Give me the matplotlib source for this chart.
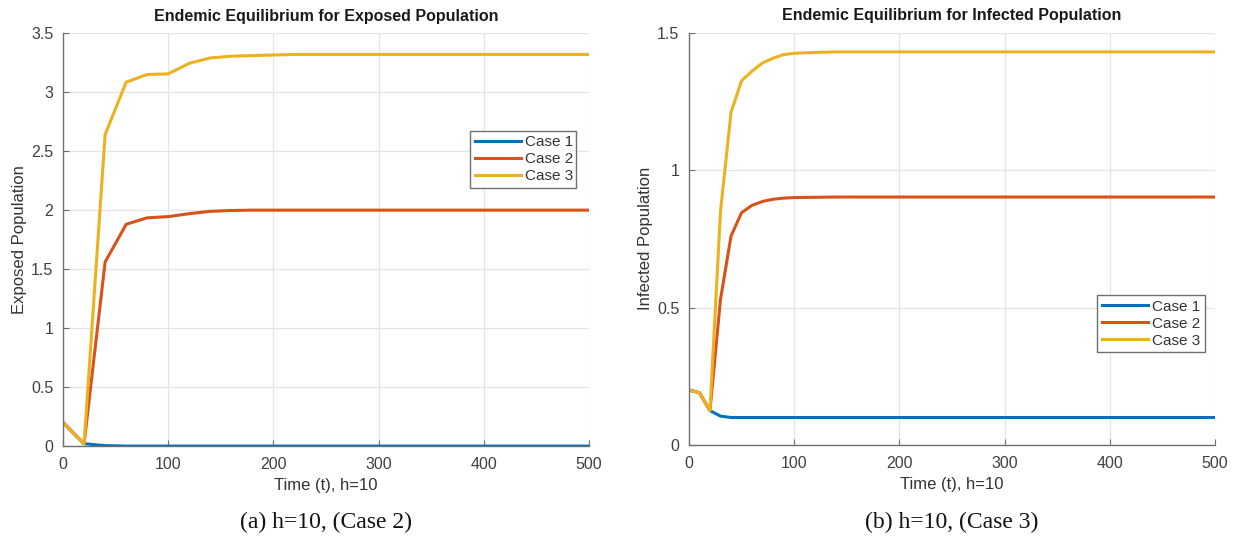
import matplotlib.pyplot as plt
from matplotlib.ticker import FuncFormatter

plt.rcParams['font.family'] = ['Liberation Sans', 'DejaVu Sans']

# (a) exposed population, h=10
t_a = [0, 20, 40, 60, 80, 100, 120, 140, 160, 180, 200, 220, 500]
exp_case1 = [0.2, 0.02, 0.004, 0.0, 0.0, 0.0, 0.0, 0.0, 0.0, 0.0, 0.0, 0.0, 0.0]
exp_case2 = [0.2, 0.02, 1.56, 1.88, 1.935, 1.945, 1.97, 1.99, 1.997, 2.0, 2.0, 2.0, 2.0]
exp_case3 = [0.2, 0.02, 2.64, 3.085, 3.15, 3.155, 3.245, 3.29, 3.305, 3.31, 3.315, 3.32, 3.32]

# (b) infected population, h=10
t_b = [0, 10, 20, 30, 40, 50, 60, 70, 80, 90, 100, 120, 140, 500]
inf_case1 = [0.2, 0.19, 0.125, 0.105, 0.1, 0.1, 0.1, 0.1, 0.1, 0.1, 0.1, 0.1, 0.1, 0.1]
inf_case2 = [0.2, 0.19, 0.125, 0.53, 0.76, 0.845, 0.872, 0.886, 0.894, 0.898, 0.9, 0.901, 0.902, 0.902]
inf_case3 = [0.2, 0.19, 0.125, 0.85, 1.21, 1.325, 1.36, 1.39, 1.407, 1.42, 1.425, 1.428, 1.43, 1.43]

labels = ['Case 1', 'Case 2', 'Case 3']
colors = ['#0072BD', '#D95319', '#EDB120']


def gfmt(v, pos):
    return '%g' % round(v, 3)


def draw(ax, t, series, title, ylabel, yticks, legend_box, caption):
    for y, lab, c in zip(series, labels, colors):
        ax.plot(t, y, color=c, lw=2.2, label=lab)
    ax.set_xlim(0, 500)
    ax.set_ylim(yticks[0], yticks[-1])
    ax.set_xticks([0, 100, 200, 300, 400, 500])
    ax.set_yticks(yticks)
    ax.yaxis.set_major_formatter(FuncFormatter(gfmt))
    ax.grid(True, color='#e4e4e4', lw=0.9)
    ax.set_axisbelow(True)
    for s in ['top', 'right']:
        ax.spines[s].set_visible(False)
    for s in ['left', 'bottom']:
        ax.spines[s].set_color('#707070')
        ax.spines[s].set_linewidth(1.0)
    ax.tick_params(direction='in', length=4, color='#707070',
                   labelsize=11.5, labelcolor='#404040')
    ax.tick_params(axis='x', pad=8)
    ax.tick_params(axis='y', pad=7)
    ax.set_title(title, fontsize=11.5, fontweight='bold', color='#1a1a1a', pad=9)
    ax.set_xlabel('Time (t), h=10', fontsize=12, color='#333333', labelpad=4)
    ax.set_ylabel(ylabel, fontsize=12, color='#333333', labelpad=3)
    leg = ax.legend(loc='lower left', bbox_to_anchor=legend_box, mode='expand',
                    fontsize=11, handlelength=3.0, handletextpad=0.3,
                    labelspacing=0.2, borderpad=0.3, fancybox=False,
                    framealpha=1, borderaxespad=0)
    leg.get_frame().set_edgecolor('#707070')
    leg.get_frame().set_linewidth(1.0)
    for txt in leg.get_texts():
        txt.set_color('#333333')
    pos = ax.get_position()
    ax.figure.text((pos.x0 + pos.x1) / 2, 0.04, caption, ha='center', va='center',
                   fontsize=17, family='Liberation Serif', color='#111111')


fig = plt.figure(figsize=(12.36, 5.44), dpi=100)
ax1 = fig.add_axes([0.051, 0.180, 0.4256, 0.759])
ax2 = fig.add_axes([0.5574, 0.182, 0.4256, 0.758])

draw(ax1, t_a, [exp_case1, exp_case2, exp_case3],
     'Endemic Equilibrium for Exposed Population', 'Exposed Population',
     [0, 0.5, 1, 1.5, 2, 2.5, 3, 3.5], (0.774, 0.625, 0.201, 0.152),
     '(a) h=10, (Case 2)')
draw(ax2, t_b, [inf_case1, inf_case2, inf_case3],
     'Endemic Equilibrium for Infected Population', 'Infected Population',
     [0, 0.5, 1, 1.5], (0.776, 0.225, 0.205, 0.148),
     '(b) h=10, (Case 3)')

fig.savefig('out.png', dpi=100)
